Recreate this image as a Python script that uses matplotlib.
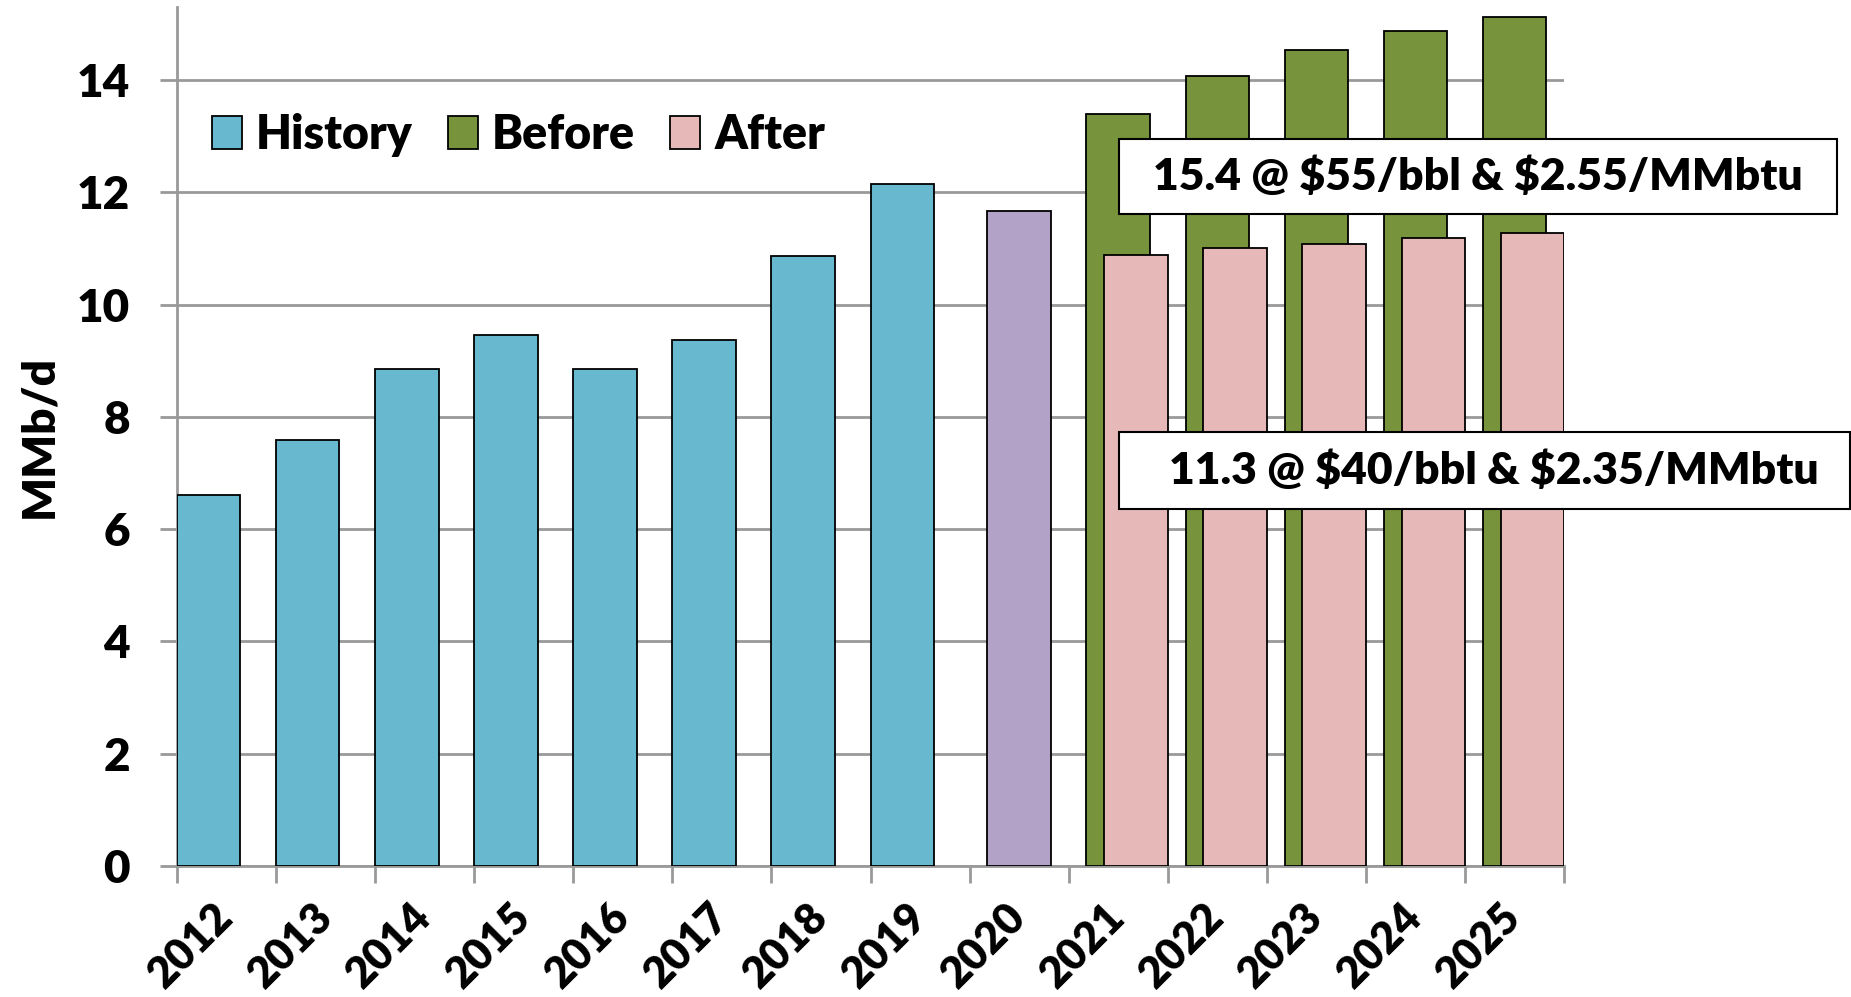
import numpy as np
import matplotlib.pyplot as plt
from matplotlib.patches import Patch, Rectangle

years = ['2012', '2013', '2014', '2015', '2016', '2017', '2018', '2019',
         '2020', '2021', '2022', '2023', '2024', '2025']
history = [6.60, 7.59, 8.85, 9.45, 8.85, 9.37, 10.86, 12.14]
current = [11.67]          # 2020, drawn in purple
before = [13.39, 14.07, 14.53, 14.87, 15.13]
after = [10.88, 11.00, 11.08, 11.19, 11.27]
notes = ['15.4 @ $55/bbl & $2.55/MMbtu', '11.3 @ $40/bbl & $2.35/MMbtu']

c_hist = '#68B8D0'
c_cur = '#B3A2C7'
c_before = '#77933C'
c_after = '#E6B9B8'
grid_c = '#999999'

plt.rcParams['font.family'] = ['Lato', 'DejaVu Sans']
plt.rcParams['font.weight'] = 'heavy'
plt.rcParams['text.parse_math'] = False

fig = plt.figure(figsize=(18.51, 9.97), dpi=100)
ax = fig.add_axes([177 / 1851, 131 / 997, 1387 / 1851, 859 / 997])

w = 0.64
x = np.arange(len(years))
n_h = len(history)
ax.bar(x[:n_h], history, width=w, align='edge', color=c_hist,
       edgecolor='black', linewidth=1.3, zorder=3)
ax.bar(x[n_h:n_h + 1] + 0.18, current, width=w, align='edge', color=c_cur,
       edgecolor='black', linewidth=1.3, zorder=3)
xf = x[n_h + 1:]
ax.bar(xf + 0.18, before, width=w, align='edge', color=c_before,
       edgecolor='black', linewidth=1.3, zorder=3)
ax.bar(xf + 0.36, after, width=w, align='edge', color=c_after,
       edgecolor='black', linewidth=1.3, zorder=4)

ax.set_xlim(0, len(years))
ax.set_ylim(0, 15.3)
ax.set_yticks(np.arange(0, 15, 2))
ax.yaxis.grid(True, color=grid_c, linewidth=2, zorder=0)
ax.set_axisbelow(True)
for s in ['top', 'right']:
    ax.spines[s].set_visible(False)
for s in ['left', 'bottom']:
    ax.spines[s].set_color(grid_c)
    ax.spines[s].set_linewidth(2)

ax.set_xticks(x + 0.5)
ax.set_xticklabels(years)
ax.set_xticks(np.arange(len(years) + 1), minor=True)
ax.tick_params(axis='x', which='major', length=0, pad=32, labelsize=31)
ax.tick_params(axis='x', which='minor', length=12, width=2, color=grid_c)
ax.tick_params(axis='y', length=12, width=2, color=grid_c, pad=22, labelsize=33)
for lab in ax.get_xticklabels():
    lab.set_rotation(45)
    lab.set_ha('right')
    lab.set_va('center')
    lab.set_rotation_mode('anchor')

ax.set_ylabel('MMb/d', fontsize=33, fontweight='heavy')
ax.yaxis.set_label_coords(-0.085, 0.5)

handles = [Patch(facecolor=c_hist, edgecolor='black', linewidth=1.3),
           Patch(facecolor=c_before, edgecolor='black', linewidth=1.3),
           Patch(facecolor=c_after, edgecolor='black', linewidth=1.3)]
ax.legend(handles, ['History', 'Before', 'After'], ncol=3, frameon=False,
          loc='center left', bbox_to_anchor=(212 / 1851, 1 - 135 / 997),
          bbox_transform=fig.transFigure, fontsize=33.5, borderpad=0,
          borderaxespad=0, handlelength=0.65, handleheight=0.72,
          handletextpad=0.3, columnspacing=0.75)

boxes = [(1119, 139, 1837, 214, 1153), (1119, 432, 1850, 509, 1169)]
for (x0, y0, x1, y1, tx), txt in zip(boxes, notes):
    fig.add_artist(Rectangle((x0 / 1851, 1 - y1 / 997), (x1 - x0) / 1851,
                             (y1 - y0) / 997, transform=fig.transFigure,
                             facecolor='white', edgecolor='black',
                             linewidth=1.5, zorder=10))
    fig.text(tx / 1851, 1 - (y0 + y1) / 2 / 997, txt, fontsize=32,
             fontweight='heavy', ha='left', va='center', zorder=11)

fig.savefig('out.png', dpi=100)
